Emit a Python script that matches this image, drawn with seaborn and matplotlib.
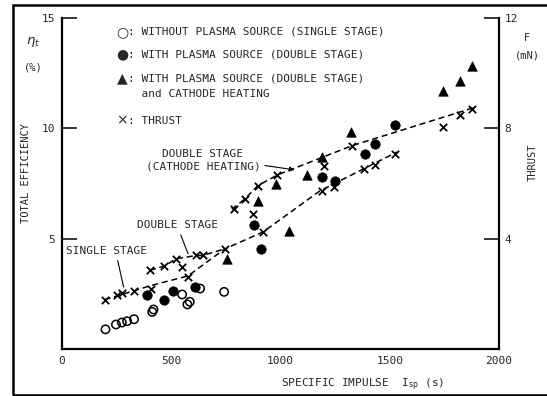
import matplotlib
matplotlib.use("Agg")
import matplotlib.pyplot as plt
import seaborn as sns
from matplotlib.patches import Rectangle

# values
# efficiency (%) vs specific impulse (s)
isp_open = [199, 247, 274, 298, 330, 413, 419, 550, 574, 585, 632, 742]
eff_open = [0.89, 1.11, 1.20, 1.26, 1.35, 1.68, 1.79, 2.47, 2.02, 2.14, 2.74, 2.59]

isp_fill = [391, 466, 510, 609, 877, 909, 1188, 1250, 1386, 1431, 1526]
eff_fill = [2.44, 2.24, 2.65, 2.80, 5.64, 4.54, 7.78, 7.63, 8.83, 9.28, 10.14]

isp_tri = [754, 898, 979, 1040, 1121, 1191, 1324, 1745, 1822, 1876]
eff_tri = [4.09, 6.72, 7.48, 5.34, 7.90, 8.68, 9.85, 11.69, 12.14, 12.82]

# thrust (mN) vs specific impulse (s)
isp_thr = [195, 250, 274, 330, 407, 402, 469, 522, 549, 577, 614, 644, 745,
           788, 837, 876, 896, 920, 986, 1191, 1199, 1247, 1327, 1383, 1431,
           1523, 1746, 1822, 1877]
thr = [1.79, 1.97, 2.03, 2.11, 2.19, 2.85, 3.01, 3.27, 2.97, 2.61, 3.39, 3.39,
       3.63, 5.06, 5.44, 4.90, 5.92, 4.24, 6.31, 5.74, 6.64, 5.86, 7.37, 6.52,
       6.68, 7.07, 8.05, 8.49, 8.71]

# dashed thrust curves
single_isp = [195, 330, 402, 577, 745, 920, 1180, 1385, 1533]
single_thr = [1.79, 2.11, 2.29, 2.65, 3.63, 4.24, 5.73, 6.55, 7.14]
double_isp = [402, 469, 522, 614, 644, 745]
double_thr = [2.85, 3.01, 3.27, 3.39, 3.39, 3.63]
heat_isp = [777, 837, 896, 986, 1327, 1885]
heat_thr = [5.06, 5.44, 5.92, 6.31, 7.37, 8.75]

x_ticks = [0, 500, 1000, 1500, 2000]
eff_ticks = [5, 10, 15]
thr_ticks = [4, 8, 12]

legend_keys = ["○", "●", "▲", "", "×"]
legend_lines = [": WITHOUT PLASMA SOURCE (SINGLE STAGE)",
                ": WITH PLASMA SOURCE (DOUBLE STAGE)",
                ": WITH PLASMA SOURCE (DOUBLE STAGE)",
                "  and CATHODE HEATING",
                ": THRUST"]
legend_y = [14.37, 13.34, 12.26, 11.57, 10.34]

sns.set_style("white")
plt.rcParams['font.family'] = ['DejaVu Sans Mono', 'DejaVu Sans']
plt.rcParams['font.size'] = 8

fig = plt.figure(figsize=(5.47, 3.96), dpi=100)
ax = fig.add_axes([0.1133, 0.1187, 0.7989, 0.8358])
ax2 = ax.twinx()

# efficiency points
sns.scatterplot(x=isp_open, y=eff_open, ax=ax, marker='o', s=36, color='black',
                facecolor='none', edgecolor='black', linewidth=1.1, zorder=3)
sns.scatterplot(x=isp_fill, y=eff_fill, ax=ax, marker='o', s=46, color='black',
                edgecolor='black', linewidth=0.5, zorder=3)
sns.scatterplot(x=isp_tri, y=eff_tri, ax=ax, marker='^', s=46, color='black',
                edgecolor='black', linewidth=0.5, zorder=3)

# thrust points and curves
dash = (0, (4, 2.5))
for xs, ys in [(single_isp, single_thr), (double_isp, double_thr), (heat_isp, heat_thr)]:
    sns.lineplot(x=xs, y=ys, ax=ax2, color='black', lw=1.1, linestyle=dash)
sns.scatterplot(x=isp_thr, y=thr, ax=ax2, marker='x', s=28, color='black',
                linewidth=1.3, zorder=3)

ax.set_xlim(0, 2000)
ax.set_ylim(0, 15)
ax2.set_ylim(0, 12)
ax.set_xticks(x_ticks)
ax.set_yticks(eff_ticks)
ax2.set_yticks(thr_ticks)
ax.tick_params(axis='both', direction='in', length=11, width=1.3, pad=5, labelsize=8)
ax.tick_params(axis='x', pad=5)
ax2.tick_params(axis='y', direction='in', length=11, width=1.3, pad=4, labelsize=8)

for s in ['top', 'right']:
    ax.spines[s].set_visible(False)
for s in ['top', 'left', 'bottom']:
    ax2.spines[s].set_visible(False)
for a in (ax, ax2):
    for s in a.spines.values():
        s.set_linewidth(1.6)
        s.set_color('black')

# legend typed as text, like the original
for key, txt, yy in zip(legend_keys, legend_lines, legend_y):
    if key:
        ax.text(274, yy, key, va='center', ha='center', fontsize=10,
                family=['DejaVu Sans'])
    ax.text(300, yy, txt, va='center', ha='left', fontsize=8)

# curve labels
ax.annotate('SINGLE STAGE', xy=(282, 2.81), xytext=(206, 4.44), ha='center',
            va='center', fontsize=8,
            arrowprops=dict(arrowstyle='-', lw=0.8, color='black',
                            relpos=(0.62, 0), shrinkA=1, shrinkB=0))
ax.annotate('DOUBLE STAGE', xy=(577, 4.32), xytext=(528, 5.60), ha='center',
            va='center', fontsize=8,
            arrowprops=dict(arrowstyle='-', lw=0.8, color='black',
                            relpos=(0.52, 0), shrinkA=1, shrinkB=0))
ax.annotate('DOUBLE STAGE\n(CATHODE HEATING)', xy=(1064, 8.12), xytext=(645, 8.55),
            ha='center', va='center', fontsize=8, linespacing=1.3,
            arrowprops=dict(arrowstyle='-|>', lw=0.8, color='black',
                            mutation_scale=7, relpos=(1, 0.3), shrinkA=1, shrinkB=0))

# axis titles
fig.text(33 / 547, 1 - 42 / 396, r'$\eta_t$', ha='center', va='center', fontsize=9.5)
fig.text(33 / 547, 1 - 68 / 396, '(%)', ha='center', va='center', fontsize=7.5)
fig.text(26 / 547, 1 - 173 / 396, 'TOTAL EFFICIENCY', rotation=90, ha='center',
         va='center', fontsize=7.5)
fig.text(527 / 547, 1 - 38 / 396, 'F', ha='center', va='center', fontsize=7.5)
fig.text(527 / 547, 1 - 55 / 396, '(mN)', ha='center', va='center', fontsize=7.5)
fig.text(533 / 547, 1 - 162 / 396, 'THRUST', rotation=90, ha='center',
         va='center', fontsize=7.5)
fig.text(363 / 547, 1 - 385 / 396, r'SPECIFIC IMPULSE  I$_{\rm sp}$ (s)',
         ha='center', va='center', fontsize=8)

# outer frame of the scanned page
fig.patches.append(Rectangle((13 / 547, 1 / 396), 1.0, 390 / 396, transform=fig.transFigure,
                             fill=False, lw=1.8, edgecolor='black'))

fig.savefig('out.png', dpi=100)
